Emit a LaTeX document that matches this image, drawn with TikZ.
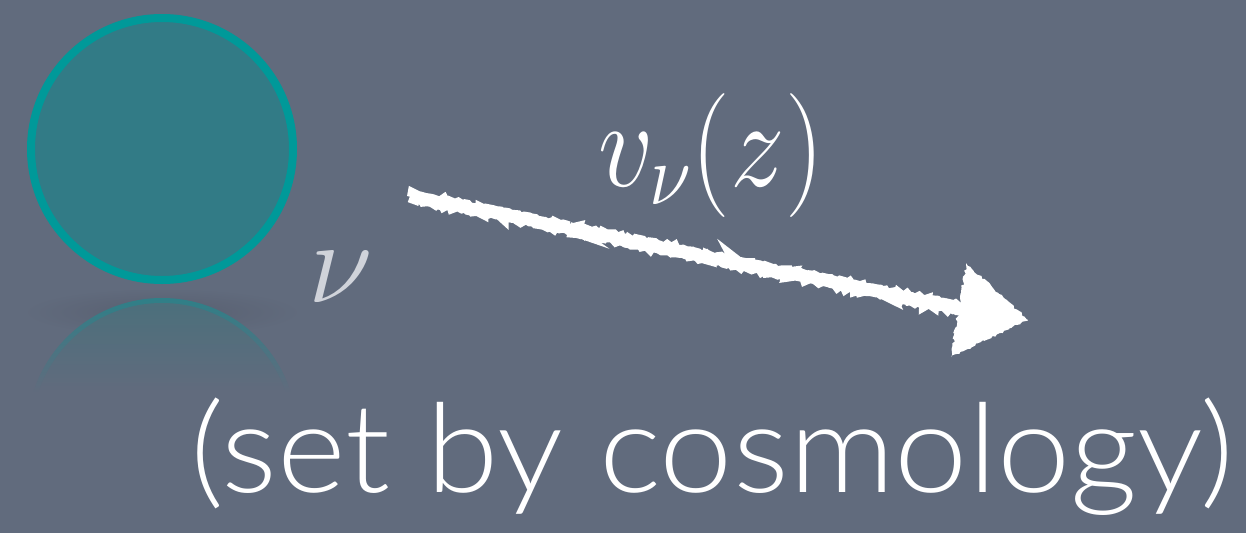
\documentclass[tikz,border=0pt]{standalone}
\usepackage{fix-cm}
\usepackage{fontspec}
\newfontfamily\gill{Lato Light}
\usetikzlibrary{decorations.pathmorphing}
\definecolor{bg}{HTML}{616B7D}
\definecolor{circfill}{HTML}{327B86}
\definecolor{circline}{HTML}{009999}
\definecolor{reflc}{HTML}{4A707C}
\definecolor{ringc}{HTML}{2E8088}
\definecolor{shadowc}{HTML}{585F70}
\definecolor{nucol}{HTML}{D0D3DA}
\begin{document}
\begin{tikzpicture}[x=1pt,y=-1pt,
  chalk/.style={white, decorate, decoration={random steps,segment length=2.5pt,amplitude=1.6pt}},
  lbl/.style={anchor=base west, inner sep=0pt, outer sep=0pt}]
\useasboundingbox (0,0) rectangle (1246,533);
\fill[bg] (0,0) rectangle (1246,533);
% soft shadow under the ball
\shade[inner color=shadowc, outer color=bg] (162,312) ellipse (140 and 24);
% reflection
\begin{scope}
  \clip (162,433) circle (135);
  \shade[top color=ringc, bottom color=bg] (20,296) rectangle (305,392);
\end{scope}
\begin{scope}
  \clip (162,433) circle (130);
  \shade[top color=reflc, bottom color=bg] (20,296) rectangle (305,392);
\end{scope}
% ball
\node[circle, minimum size=262pt, inner sep=0pt, draw=circline, line width=8pt, fill=circfill] (ball) at (162,149) {};
% labels
\node[lbl, text=nucol, font=\fontsize{118}{118}\selectfont] (nulab) at (308,302) {$\nu$};
\node[lbl, text=white, font=\fontsize{124}{124}\selectfont] (vlab) at (598,186) {\scalebox{0.88}[1]{$v_{\nu}(z)$}};
\node[lbl, text=white, font=\gill\fontsize{124}{124}\selectfont] (note) at (190,492) {\scalebox{1.06}[1]{(set by cosmology)}};
% chalk arrow
\coordinate (s) at (410,196);
\coordinate (hb) at (962,309);
\coordinate (tip) at (1028,320);
\coordinate (h1) at (966,263);
\coordinate (h2) at (951,357);
\draw[chalk, line width=13pt] (s) -- (hb);
\fill[chalk] (h1) -- (tip) -- (h2) -- cycle;
\end{tikzpicture}
\end{document}
